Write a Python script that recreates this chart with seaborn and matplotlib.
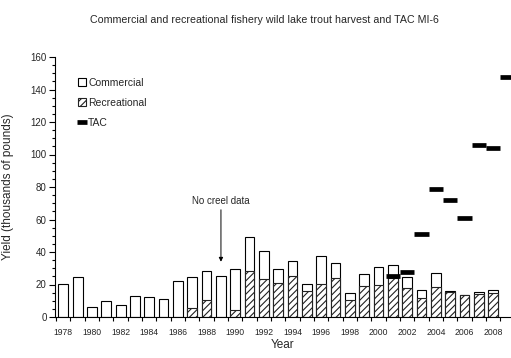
import numpy as np
import pandas as pd
import matplotlib
matplotlib.use("Agg")
import matplotlib.pyplot as plt
from matplotlib import font_manager
from matplotlib.patches import Patch
from matplotlib.lines import Line2D
import seaborn as sns

# Harvest (thousands of pounds), 1978-2008
years = list(range(1978, 2009))
commercial = [20.3, 24.6, 6.4, 9.6, 7.4, 12.7, 12.3, 11.1, 22.4, 19.5,
              17.6, 25.2, 25.4, 20.5, 17.6, 8.6, 9.3, 3.9, 17.2, 9.7,
              4.5, 7.6, 11.3, 8.0, 6.8, 5.3, 8.6, 0.6, 0.0, 0.8,
              2.0]
recreational = [np.nan, np.nan, np.nan, np.nan, np.nan, np.nan, np.nan, np.nan, np.nan, 5.3,
                10.5, np.nan, 4.1, 28.5, 23.2, 21.1, 25.2, 16.2, 20.5, 23.8,
                10.5, 18.9, 19.7, 24.0, 17.6, 11.5, 18.3, 15.2, 13.3, 14.4,
                14.6]

# Total allowable catch
tac_years = [2001, 2002, 2003, 2004, 2005, 2006, 2007, 2008, 2009]
tac = [25.0, 27.5, 51.0, 79.0, 72.0, 61.0, 106.0, 104.0, 148.0]

all_years = list(range(1978, 2010))
tick_years = list(range(1978, 2010, 2))

sns.set_style("ticks")
names = {f.name for f in font_manager.fontManager.ttflist}
narrow = "Liberation Sans Narrow" if "Liberation Sans Narrow" in names else "Liberation Sans"
plt.rcParams["font.family"] = ["Liberation Sans", "DejaVu Sans"]
plt.rcParams["hatch.linewidth"] = 0.8

df = pd.DataFrame({"year": years,
                   "commercial": commercial,
                   "recreational": recreational})
df["total"] = df["commercial"] + df["recreational"].fillna(0)
rec_df = df.dropna(subset=["recreational"])

fig = plt.figure(figsize=(5.11, 3.58), dpi=100)
ax = fig.add_axes([55 / 511, 41 / 358, 456 / 511, 260 / 358])

# Stacked bars: full height (commercial on top) then recreational part hatched
sns.barplot(data=df, x="year", y="total", order=all_years, color="white",
            edgecolor="black", linewidth=0.8, width=0.68, saturation=1, ax=ax)
n_before = len(ax.patches)
sns.barplot(data=rec_df, x="year", y="recreational", order=all_years, color="white",
            edgecolor="black", linewidth=0.8, width=0.68, saturation=1, ax=ax)
for p in ax.patches[n_before:]:
    p.set_hatch("/////")
    p.set_facecolor("white")
    p.set_edgecolor("#222222")

# TAC as thick horizontal dashes spanning each year slot
tac_pos = np.array([all_years.index(y) for y in tac_years])
ax.hlines(tac, tac_pos - 0.5, tac_pos + 0.5, color="black", linewidth=3.4, zorder=5)

ax.set_xlim(-0.58, 31.24)
ax.set_ylim(0, 160)

ax.set_xticks([all_years.index(y) for y in tick_years])
ax.set_xticklabels([str(y) for y in tick_years], fontsize=6.2, family=narrow)
ax.set_xticks(np.arange(-0.5, 31, 1), minor=True)
ax.tick_params(axis="x", which="major", length=0, pad=8)
ax.tick_params(axis="x", which="minor", length=3, width=0.8, color="black")

ax.set_yticks(np.arange(0, 161, 20))
ax.set_yticklabels([str(v) for v in range(0, 161, 20)], fontsize=7, family=narrow)
ax.set_yticks(np.arange(0, 161, 5), minor=True)
ax.tick_params(axis="y", which="major", length=4, width=0.8, pad=2, color="black")
ax.tick_params(axis="y", which="minor", length=2, width=0.8, color="black")

for side in ("top", "right"):
    ax.spines[side].set_visible(False)
for side in ("left", "bottom"):
    ax.spines[side].set_color("black")
    ax.spines[side].set_linewidth(0.8)

ax.set_xlabel("Year", fontsize=8.5, labelpad=1)
ax.set_ylabel("Yield (thousands of pounds)", fontsize=8.5, labelpad=12)

fig.text(264.5 / 511, 1 - 23 / 358,
         "Commercial and recreational fishery wild lake trout harvest and TAC MI-6",
         ha="center", va="baseline", fontsize=7.7)

# Gap in the recreational survey
gap = all_years.index(1989)
ax.annotate("No creel data", xy=(gap, 34), xytext=(gap, 68),
            ha="center", va="bottom", fontsize=7, family=narrow,
            arrowprops=dict(arrowstyle="-|>", color="black", lw=0.7,
                            mutation_scale=6, shrinkA=0, shrinkB=0))

handles = [Patch(facecolor="white", edgecolor="black", linewidth=0.8),
           Patch(facecolor="white", edgecolor="#222222", hatch="/////", linewidth=0.8),
           Line2D([], [], color="black", linestyle="none", marker="_",
                  markersize=7, markeredgewidth=3.4)]
ax.legend(handles, ["Commercial", "Recreational", "TAC"],
          loc="upper left", bbox_to_anchor=(0.05, 0.92), frameon=False,
          prop={"family": narrow, "size": 7.5},
          handlelength=0.75, handleheight=0.75, handletextpad=0.25,
          labelspacing=0.95, borderpad=0, borderaxespad=0)

fig.savefig("out.png", dpi=100)
